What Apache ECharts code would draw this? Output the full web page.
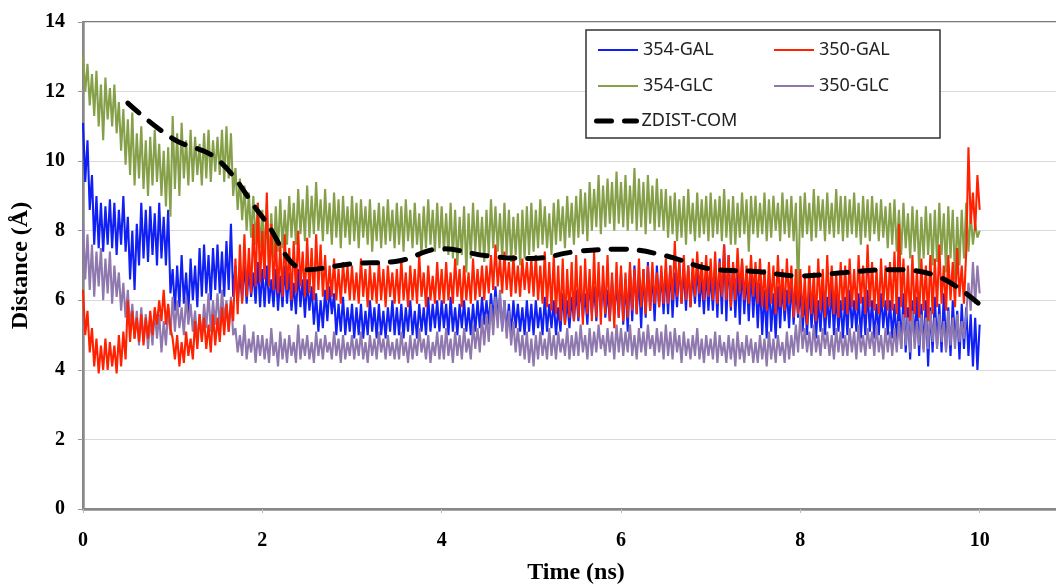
<!DOCTYPE html>
<html>
<head>
<meta charset="utf-8">
<script src="https://cdn.jsdelivr.net/npm/echarts@6/dist/echarts.min.js"></script>
<style>
  html, body { margin: 0; padding: 0; background: #fff; }
  #chart { width: 1056px; height: 586px; }
</style>
</head>
<body>
<div id="chart"></div>
<script>
// sampled every 0.025 ns, 0 .. 10 ns (one row = 0.5 ns)
const STEP = 0.025;

const gal354 = [
  11.1, 9.4, 10.6, 8.6, 9.6, 7.6, 9.0, 7.5, 8.8, 7.4, 8.7, 7.6, 8.9, 7.5, 8.8, 7.3, 8.6, 7.6, 9.0, 7.4,
  8.4, 6.6, 8.0, 6.3, 8.2, 7.0, 8.8, 7.2, 8.6, 7.1, 8.7, 7.3, 8.5, 7.0, 8.8, 7.2, 8.4, 7.0, 8.6, 6.2,
  6.9, 5.7, 7.0, 5.8, 7.3, 5.9, 6.8, 5.6, 7.2, 6.0, 7.0, 5.8, 7.5, 6.1, 7.6, 6.2, 7.3, 6.0, 7.5, 6.3,
  7.6, 6.2, 7.4, 6.1, 7.7, 6.3, 8.2, 6.1, 7.0, 5.9, 6.8, 6.0, 7.1, 5.9, 6.9, 6.1, 6.8, 5.9, 7.1, 5.8,
  6.9, 5.8, 7.0, 5.9, 6.6, 5.8, 6.9, 5.7, 6.7, 5.8, 7.0, 5.9, 6.8, 5.7, 6.5, 5.6, 6.9, 5.8, 6.6, 5.5,
  6.6, 5.7, 6.4, 5.3, 6.2, 5.1, 6.0, 5.2, 6.3, 5.4, 6.4, 5.6, 6.2, 5.0, 5.9, 5.1, 6.1, 5.0, 5.8, 5.1,
  5.9, 4.9, 5.8, 5.0, 5.9, 4.9, 5.7, 5.0, 6.0, 5.1, 5.8, 4.9, 5.9, 5.0, 5.7, 4.9, 5.8, 5.1, 6.0, 5.0,
  5.8, 5.0, 5.9, 4.9, 5.8, 5.1, 6.0, 5.0, 5.7, 4.9, 5.9, 5.1, 5.8, 5.0, 6.1, 5.1, 5.9, 5.2, 6.0, 5.1,
  6.0, 5.2, 5.9, 5.0, 6.1, 5.1, 5.8, 5.0, 5.9, 5.2, 6.0, 5.1, 5.8, 5.0, 5.9, 5.1, 6.0, 5.2, 6.1, 5.3,
  6.0, 5.3, 6.2, 5.4, 6.4, 5.5, 6.1, 5.2, 6.0, 5.1, 5.9, 5.0, 6.0, 5.2, 5.9, 5.1, 5.8, 5.0, 6.0, 5.1,
  5.9, 5.0, 6.0, 5.2, 5.8, 5.0, 6.1, 5.1, 5.9, 5.2, 6.0, 5.0, 5.8, 5.1, 6.2, 5.3, 6.0, 5.2, 6.1, 5.4,
  6.3, 5.4, 6.5, 5.5, 6.2, 5.3, 6.6, 5.6, 6.4, 5.4, 6.7, 5.7, 6.5, 5.5, 6.3, 5.4, 6.6, 5.6, 6.5, 5.5,
  6.8, 5.3, 6.6, 5.1, 6.9, 5.4, 7.0, 5.6, 6.7, 5.2, 6.9, 5.5, 7.1, 5.7, 6.8, 5.4, 7.0, 5.8, 6.8, 5.6,
  6.9, 5.6, 7.0, 5.5, 6.8, 5.8, 7.1, 5.9, 6.9, 5.7, 7.0, 5.8, 6.8, 5.9, 7.0, 5.8, 6.7, 5.6, 6.9, 5.7,
  6.8, 5.7, 7.0, 5.5, 7.2, 5.6, 7.6, 5.4, 7.3, 5.7, 7.0, 5.5, 6.9, 5.3, 7.1, 5.6, 6.8, 5.4, 6.9, 5.5,
  6.7, 5.2, 6.5, 5.0, 6.3, 4.9, 6.6, 5.1, 6.2, 4.9, 6.4, 5.2, 6.5, 5.4, 6.3, 5.2, 6.6, 5.3, 6.4, 5.5,
  6.3, 5.1, 6.1, 5.0, 6.4, 5.2, 6.2, 4.9, 6.0, 5.1, 6.3, 5.0, 6.1, 5.2, 6.4, 5.0, 6.2, 5.1, 6.0, 4.9,
  6.1, 5.0, 6.3, 5.2, 6.0, 5.1, 6.2, 4.9, 6.1, 5.0, 6.3, 5.1, 6.0, 4.9, 5.9, 5.0, 6.2, 5.2, 6.0, 5.0,
  6.0, 4.9, 5.9, 4.7, 6.1, 4.6, 6.2, 4.5, 5.8, 4.3, 6.0, 4.8, 6.1, 4.4, 5.9, 4.6, 6.0, 4.1, 5.8, 4.5,
  6.1, 4.7, 5.9, 4.5, 6.2, 4.6, 5.8, 4.4, 6.0, 4.8, 5.7, 4.3, 5.9, 4.6, 5.8, 4.4, 5.6, 4.1, 5.5, 4.0,
  5.3
];

const gal350 = [
  6.3, 5.0, 5.7, 4.5, 5.2, 4.1, 4.9, 3.9, 4.7, 4.0, 4.9, 4.0, 4.8, 4.1, 4.7, 3.9, 5.0, 4.1, 5.1, 4.3,
  6.0, 4.8, 5.7, 4.9, 5.5, 4.8, 5.6, 4.7, 5.5, 4.9, 5.7, 5.0, 5.8, 5.3, 6.0, 5.4, 6.3, 5.3, 5.9, 5.2,
  4.9, 4.3, 5.0, 4.1, 4.8, 4.2, 5.1, 4.4, 4.9, 4.3, 5.4, 4.6, 5.6, 4.8, 5.5, 4.6, 5.3, 4.5, 5.6, 4.7,
  5.5, 4.8, 5.8, 5.0, 5.9, 5.1, 6.0, 5.4, 7.2, 5.6, 7.6, 5.9, 7.9, 6.1, 7.5, 6.2, 8.2, 6.4, 8.8, 6.5,
  8.0, 6.6, 9.1, 6.4, 8.2, 6.3, 7.8, 6.2, 7.6, 6.1, 7.9, 6.3, 7.5, 6.0, 7.7, 6.2, 8.0, 6.4, 7.4, 6.1,
  7.8, 6.2, 7.5, 6.0, 7.9, 6.3, 7.6, 6.1, 7.3, 6.0, 7.0, 6.1, 7.2, 6.0, 6.9, 5.9, 7.1, 6.2, 7.0, 6.0,
  7.0, 6.0, 6.8, 5.9, 7.2, 6.1, 6.9, 5.8, 7.0, 6.0, 6.8, 5.9, 7.1, 6.0, 6.9, 5.8, 7.0, 6.1, 6.8, 5.9,
  6.9, 5.9, 7.2, 6.0, 6.8, 5.8, 7.0, 6.0, 6.9, 5.9, 7.3, 6.1, 6.8, 5.8, 7.0, 6.0, 6.7, 5.9, 7.1, 6.0,
  6.9, 5.9, 7.1, 6.0, 6.8, 5.9, 7.2, 6.1, 6.9, 5.8, 7.0, 6.0, 6.8, 5.9, 7.2, 6.0, 6.9, 6.1, 7.0, 6.0,
  7.0, 6.2, 7.3, 6.3, 7.6, 6.4, 7.2, 6.2, 7.4, 6.3, 7.1, 6.1, 7.3, 6.2, 7.0, 6.1, 7.2, 6.3, 7.1, 6.2,
  7.2, 6.1, 7.3, 6.0, 7.0, 5.9, 7.4, 5.8, 7.1, 5.7, 7.3, 5.6, 7.0, 5.4, 7.2, 5.3, 6.9, 5.5, 7.1, 5.4,
  7.3, 5.5, 7.0, 5.3, 7.2, 5.6, 6.9, 5.4, 7.4, 5.5, 7.1, 5.3, 7.0, 5.6, 7.3, 5.4, 6.8, 5.2, 7.1, 5.5,
  7.0, 5.4, 6.8, 5.5, 7.1, 5.7, 6.9, 5.6, 7.2, 5.8, 6.9, 5.6, 7.0, 5.7, 7.1, 5.9, 6.8, 5.8, 7.0, 5.9,
  7.2, 5.9, 7.0, 6.0, 7.7, 6.1, 7.1, 5.9, 7.3, 6.0, 7.0, 5.8, 7.2, 6.1, 7.4, 6.2, 7.1, 6.0, 7.3, 6.1,
  7.2, 6.0, 7.4, 5.9, 7.1, 6.1, 7.6, 6.0, 7.3, 5.8, 7.1, 6.0, 7.5, 6.2, 7.2, 6.0, 7.0, 5.9, 7.3, 6.1,
  7.1, 5.9, 7.2, 5.8, 6.9, 5.7, 7.1, 5.9, 7.0, 5.6, 7.3, 5.8, 6.9, 5.7, 7.2, 5.9, 7.0, 5.5, 6.9, 5.6,
  6.9, 5.5, 6.7, 5.3, 7.0, 5.6, 6.8, 5.4, 7.2, 5.7, 6.9, 5.5, 7.3, 5.8, 7.0, 5.6, 6.8, 5.5, 7.1, 5.7,
  7.0, 5.6, 7.2, 5.8, 6.9, 5.7, 7.3, 5.9, 7.0, 5.6, 7.6, 5.8, 7.1, 5.7, 6.9, 5.6, 7.2, 5.8, 7.0, 5.7,
  7.1, 5.7, 7.4, 5.6, 8.2, 5.8, 7.2, 5.5, 7.0, 5.4, 7.3, 5.6, 6.9, 5.5, 7.2, 5.7, 7.0, 5.4, 7.3, 5.6,
  7.2, 5.8, 7.6, 5.9, 7.0, 5.7, 7.3, 6.0, 7.1, 5.8, 7.5, 6.1, 7.0, 5.9, 7.4, 10.4, 8.2, 9.1, 8.0, 9.6,
  8.6
];

const glc354 = [
  13.0, 12.0, 12.8, 11.6, 12.5, 11.3, 12.6, 11.0, 12.2, 10.6, 12.4, 11.2, 12.1, 11.0, 12.2, 10.8, 11.7, 10.3, 11.5, 9.9,
  11.2, 9.6, 11.4, 9.3, 10.8, 9.5, 11.0, 9.2, 10.6, 9.0, 10.7, 9.3, 10.9, 9.4, 10.5, 9.0, 10.3, 8.7, 10.4, 8.4,
  11.3, 9.2, 10.8, 9.0, 11.1, 9.5, 10.6, 9.3, 10.9, 9.4, 10.7, 9.6, 10.5, 9.3, 10.8, 9.5, 10.9, 9.4, 10.6, 9.7,
  10.7, 9.6, 10.9, 9.4, 11.0, 9.5, 10.8, 9.0, 9.8, 8.6, 9.5, 8.3, 9.3, 8.0, 9.1, 7.8, 9.0, 7.6, 8.8, 7.5,
  8.6, 7.3, 8.8, 7.0, 8.5, 7.2, 8.7, 7.4, 8.9, 7.5, 8.6, 7.6, 9.0, 7.8, 8.8, 7.6, 9.2, 7.9, 8.9, 7.7,
  9.3, 7.8, 9.0, 7.9, 9.4, 8.0, 8.9, 7.7, 9.2, 7.9, 8.8, 7.6, 9.1, 7.8, 8.9, 7.5, 9.0, 7.8, 8.7, 7.6,
  9.0, 7.7, 8.8, 7.5, 8.9, 7.8, 8.7, 7.6, 8.9, 7.4, 8.6, 7.7, 8.8, 7.5, 8.7, 7.6, 8.9, 7.7, 8.6, 7.5,
  8.8, 7.6, 8.7, 7.4, 8.9, 7.7, 8.6, 7.5, 8.8, 7.6, 8.5, 7.3, 8.7, 7.5, 8.9, 7.6, 8.6, 7.4, 8.8, 7.5,
  8.7, 7.4, 8.5, 7.3, 8.8, 7.2, 8.6, 7.0, 8.4, 7.3, 8.7, 6.8, 8.5, 7.2, 8.8, 7.4, 8.6, 7.3, 8.4, 7.1,
  8.6, 7.3, 8.9, 7.5, 8.7, 7.4, 8.5, 7.2, 8.8, 7.3, 8.6, 7.1, 8.4, 7.3, 8.5, 7.0, 8.6, 7.2, 8.7, 7.3,
  8.8, 7.4, 8.6, 7.5, 8.9, 7.6, 8.7, 7.5, 8.5, 7.3, 8.8, 7.6, 8.9, 7.7, 8.7, 7.5, 9.0, 7.8, 8.8, 7.6,
  9.0, 7.8, 9.2, 7.9, 9.1, 7.7, 9.4, 8.0, 9.2, 8.1, 9.6, 7.9, 9.3, 8.1, 9.5, 8.2, 9.4, 8.0, 9.7, 8.2,
  9.4, 8.1, 9.6, 8.0, 9.3, 8.2, 9.8, 8.0, 9.5, 8.1, 9.4, 7.9, 9.6, 8.2, 9.3, 8.0, 9.5, 8.1, 9.2, 8.0,
  9.2, 7.8, 9.0, 7.9, 9.1, 7.7, 8.9, 7.8, 9.0, 7.6, 9.2, 7.9, 8.8, 7.7, 9.1, 7.8, 8.9, 7.9, 9.0, 7.7,
  9.1, 7.8, 8.9, 7.9, 9.0, 7.7, 9.2, 7.8, 8.9, 7.6, 9.0, 7.6, 8.8, 7.8, 9.1, 7.9, 8.9, 7.4, 9.0, 7.9,
  9.0, 7.8, 8.8, 7.9, 9.1, 7.7, 8.9, 7.8, 9.0, 8.0, 8.8, 7.7, 9.1, 7.9, 8.9, 7.8, 9.0, 7.7, 8.8, 6.1,
  9.0, 7.8, 9.1, 7.9, 8.8, 7.7, 9.2, 7.8, 9.0, 8.0, 8.9, 7.7, 9.1, 7.9, 8.8, 7.8, 9.2, 7.9, 9.0, 7.7,
  9.0, 7.8, 8.9, 7.9, 9.1, 7.8, 8.8, 7.6, 9.0, 7.8, 8.9, 7.7, 9.0, 7.9, 8.8, 7.7, 8.9, 7.8, 8.7, 7.5,
  8.8, 7.6, 8.9, 7.4, 8.6, 7.3, 8.8, 7.5, 8.5, 7.2, 8.7, 7.4, 8.6, 6.9, 8.4, 7.2, 8.7, 7.3, 8.5, 7.0,
  8.6, 7.1, 8.8, 7.3, 8.5, 6.8, 8.7, 7.2, 8.6, 6.6, 8.4, 7.0, 8.6, 7.2, 8.8, 7.4, 8.5, 7.6, 8.2, 7.8,
  8.0
];

const glc350 = [
  8.2, 6.6, 7.9, 6.3, 7.6, 6.1, 7.4, 6.4, 7.5, 6.0, 7.2, 6.2, 7.4, 5.9, 7.0, 6.1, 6.8, 5.7, 6.5, 5.5,
  6.3, 5.2, 5.9, 4.9, 5.7, 4.7, 5.8, 4.8, 5.6, 4.6, 5.5, 4.7, 5.7, 4.9, 5.6, 4.5, 5.4, 4.7, 5.8, 5.0,
  6.1, 5.1, 6.0, 5.2, 5.8, 5.0, 6.1, 5.3, 5.9, 5.1, 5.7, 4.8, 5.6, 4.9, 5.9, 5.2, 6.2, 5.1, 6.0, 5.3,
  6.2, 5.2, 6.3, 5.4, 6.0, 5.1, 6.1, 5.0, 5.2, 4.5, 5.0, 4.4, 5.3, 4.3, 4.9, 4.5, 5.1, 4.2, 5.0, 4.4,
  5.0, 4.3, 4.9, 4.2, 5.2, 4.4, 4.8, 4.1, 5.1, 4.3, 4.9, 4.2, 5.0, 4.4, 4.8, 4.2, 5.3, 4.3, 4.9, 4.4,
  5.0, 4.3, 4.8, 4.2, 5.1, 4.4, 4.9, 4.3, 5.0, 4.5, 4.8, 4.3, 5.1, 4.4, 4.9, 4.2, 5.0, 4.3, 4.8, 4.4,
  5.0, 4.3, 4.9, 4.4, 5.1, 4.3, 4.8, 4.2, 5.0, 4.4, 4.9, 4.3, 5.1, 4.5, 4.9, 4.3, 5.0, 4.4, 4.8, 4.3,
  4.9, 4.3, 5.1, 4.4, 4.8, 4.2, 5.0, 4.3, 4.9, 4.4, 5.2, 4.5, 4.9, 4.3, 5.0, 4.2, 4.8, 4.4, 5.1, 4.3,
  5.0, 4.3, 5.2, 4.4, 4.9, 4.2, 5.1, 4.4, 5.0, 4.3, 5.2, 4.5, 4.9, 4.3, 5.3, 4.6, 5.2, 4.5, 5.5, 4.7,
  5.6, 4.8, 5.9, 5.0, 6.1, 5.2, 6.3, 5.1, 6.0, 4.9, 5.7, 4.7, 5.4, 4.5, 5.2, 4.4, 5.0, 4.3, 5.1, 4.2,
  4.9, 4.1, 5.0, 4.3, 5.1, 4.4, 4.9, 4.3, 5.2, 4.4, 5.0, 4.3, 5.1, 4.5, 4.9, 4.4, 5.2, 4.3, 5.0, 4.4,
  5.1, 4.4, 5.3, 4.5, 5.0, 4.3, 5.2, 4.4, 5.1, 4.5, 5.3, 4.6, 5.0, 4.4, 5.2, 4.5, 5.1, 4.3, 5.3, 4.5,
  5.2, 4.4, 5.1, 4.5, 5.3, 4.4, 5.0, 4.3, 5.2, 4.5, 5.1, 4.4, 5.3, 4.6, 5.0, 4.4, 5.2, 4.5, 5.1, 4.3,
  5.3, 4.4, 5.1, 4.3, 5.2, 4.5, 5.0, 4.2, 5.1, 4.4, 4.9, 4.3, 5.0, 4.4, 5.2, 4.3, 4.9, 4.2, 5.0, 4.4,
  4.9, 4.3, 5.1, 4.2, 5.0, 4.4, 4.8, 4.2, 5.0, 4.3, 4.9, 4.1, 5.1, 4.3, 4.8, 4.2, 5.0, 4.4, 4.9, 4.2,
  4.8, 4.2, 5.0, 4.3, 4.9, 4.1, 5.1, 4.3, 4.9, 4.2, 5.0, 4.4, 4.8, 4.2, 5.1, 4.3, 5.0, 4.4, 5.3, 4.5,
  5.6, 4.6, 5.2, 4.5, 5.1, 4.4, 5.3, 4.5, 5.0, 4.4, 5.2, 4.6, 5.1, 4.4, 5.0, 4.3, 5.2, 4.5, 5.1, 4.4,
  5.0, 4.4, 5.2, 4.5, 5.1, 4.3, 5.3, 4.5, 5.0, 4.4, 5.2, 4.6, 5.1, 4.4, 5.3, 4.5, 5.0, 4.3, 5.2, 4.5,
  5.1, 4.4, 5.2, 4.5, 5.4, 4.6, 5.6, 4.7, 5.5, 4.5, 5.7, 4.6, 5.4, 4.7, 5.6, 4.5, 5.5, 4.6, 5.7, 4.8,
  5.5, 4.6, 5.6, 4.8, 5.4, 4.5, 5.7, 4.7, 5.5, 4.6, 5.6, 4.8, 5.4, 4.9, 5.6, 6.5, 5.7, 7.1, 5.9, 7.0,
  6.2
];

// ZDIST-COM, smooth dashed trend
const zdistTimes = [0.5, 1.0, 1.5, 2.0, 2.5, 3.0, 3.5, 4.0, 4.5, 5.0, 5.5, 6.0, 6.5, 7.0, 7.5, 8.0, 8.5, 9.0, 9.5, 10.0];
const zdistCom = [11.67, 10.65, 10.05, 8.4, 6.88, 7.05, 7.12, 7.48, 7.28, 7.2, 7.4, 7.47, 7.28, 6.9, 6.83, 6.7, 6.8, 6.88, 6.72, 5.88];

const xTicks = [0, 2, 4, 6, 8, 10, 12];
const yTicks = [0, 2, 4, 6, 8, 10, 12, 14];

const pairs = (vals) => vals.map((v, i) => [+(i * STEP).toFixed(3), v]);

const chart = echarts.init(document.getElementById("chart"));

const noisy = (name, vals, color) => ({
  name: name,
  type: "line",
  data: pairs(vals),
  showSymbol: false,
  symbol: "none",
  silent: true,
  lineStyle: { color: color, width: 2.1 },
  itemStyle: { color: color },
});

const serif = "'Liberation Serif', 'Times New Roman', serif";
const sans = "'Noto Sans', 'Liberation Sans', sans-serif";

const legendItem = (name, left, top) => ({
  data: [name],
  left: left,
  top: top,
  padding: 0,
  z: 10,
  itemWidth: 40,
  itemHeight: 12,
  itemGap: 5,
  selectedMode: false,
  textStyle: { fontFamily: sans, fontSize: 18, color: "#222" },
  itemStyle: { opacity: 0 },
  lineStyle: name === "ZDIST-COM" ? { width: 5 } : { width: 2 },
});

const option = {
  animation: false,
  backgroundColor: "#fff",
  grid: {
    left: 83, top: 22, width: 1076, bottom: 77,
    outerBoundsMode: "none",
    show: true, borderColor: "#7a7a7a", borderWidth: 2,
  },
  xAxis: {
    type: "value",
    min: xTicks[0], max: xTicks[xTicks.length - 1], interval: 2,
    name: "Time (ns)",
    nameLocation: "middle",
    nameGap: 52,
    nameTextStyle: { fontFamily: serif, fontWeight: "bold", fontSize: 24, color: "#000", padding: [0, 90, 0, 0] },
    axisLine: { lineStyle: { color: "#8a8a8a", width: 2.5 } },
    axisTick: { show: true, length: 4, lineStyle: { color: "#bbb" } },
    axisLabel: { fontFamily: serif, fontWeight: "bold", fontSize: 20, color: "#000", margin: 22 },
    splitLine: { show: false },
  },
  yAxis: {
    type: "value",
    min: yTicks[0], max: yTicks[yTicks.length - 1], interval: 2,
    name: "Distance (Å)",
    nameLocation: "middle",
    nameRotate: 90,
    nameGap: 50,
    nameTextStyle: { fontFamily: serif, fontWeight: "bold", fontSize: 24, color: "#000" },
    axisLine: { show: true, lineStyle: { color: "#8a8a8a", width: 2.5 } },
    axisTick: { show: true, length: 5, lineStyle: { color: "#999" } },
    axisLabel: { fontFamily: serif, fontWeight: "bold", fontSize: 20, color: "#000", margin: 18 },
    splitLine: { show: true, lineStyle: { color: "#d9d9d9", width: 1.2 } },
  },
  legend: [
    legendItem("354-GAL", 597, 41),
    legendItem("350-GAL", 773, 41),
    legendItem("354-GLC", 597, 77),
    legendItem("350-GLC", 773, 77),
    legendItem("ZDIST-COM", 594, 112),
  ],
  graphic: [
    {
      type: "rect",
      z: 5,
      shape: { x: 586, y: 30, width: 354, height: 108 },
      style: { fill: "#fff", stroke: "#333", lineWidth: 1.5 },
    },
  ],
  series: [
    noisy("354-GAL", gal354, "#1020f5"),
    noisy("350-GLC", glc350, "#8f78ad"),
    noisy("354-GLC", glc354, "#86a04a"),
    noisy("350-GAL", gal350, "#ff2200"),
    {
      name: "ZDIST-COM",
      type: "line",
      data: zdistTimes.map((t, i) => [t, zdistCom[i]]),
      smooth: 0.4,
      showSymbol: false,
      symbol: "none",
      silent: true,
      z: 5,
      lineStyle: { color: "#000", width: 5, type: [15, 13], cap: "round" },
      itemStyle: { color: "#000" },
    },
  ],
};

chart.setOption(option);
</script>
</body>
</html>
